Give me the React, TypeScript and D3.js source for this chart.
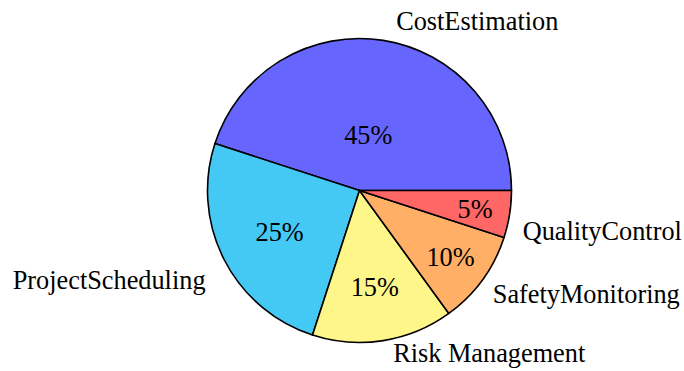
import React from "react";
import * as d3 from "d3";

const categories = ["CostEstimation", "ProjectScheduling", "Risk Management", "SafetyMonitoring", "QualityControl"];
const values = [45, 25, 15, 10, 5];
const colors = ["#6666ff", "#44c8f4", "#fff68a", "#ffb066", "#ff6666"];

// Where each percentage sits along its slice's mid-angle, as a fraction of the radius
const pctRadius = [0.37, 0.59, 0.64, 0.74, 0.77];
// Outside labels: anchor and baseline nudge relative to the 1.1·r point on the mid-angle
const labelAnchor: ("start" | "middle" | "end")[] = ["start", "end", "start", "start", "start"];
const labelNudge: [number, number][] = [[10.5, 4.5], [-5, 23], [7.5, 6.8], [-2, 14.2], [-2, 23.6]];

const W = 684;
const H = 371;
const cx = 359.5;
const cy = 190.5;
const R = 152;
const FONT = "Liberation Serif, Times New Roman, serif";

export default function App() {
  const total = d3.sum(values);
  // Counter-clockwise from 3 o'clock: convert to d3's clockwise-from-12 angles
  const pie = d3
    .pie<number>()
    .sort(null)
    .startAngle(Math.PI / 2)
    .endAngle(Math.PI / 2 - 2 * Math.PI)
    .value((d) => d);
  const arcs = pie(values);
  const arc = d3.arc<d3.PieArcDatum<number>>().innerRadius(0).outerRadius(R);

  const pos = (a: d3.PieArcDatum<number>, f: number): [number, number] => {
    const mid = (a.startAngle + a.endAngle) / 2;
    return [Math.sin(mid) * R * f, -Math.cos(mid) * R * f];
  };

  return (
    <svg width={W} height={H} style={{ position: "absolute", left: 0, top: 0 }} fontFamily={FONT} fontSize={26.3}>
      <rect width={W} height={H} fill="#ffffff" />
      <g transform={`translate(${cx},${cy})`}>
        {arcs.map((a, i) => (
          <path key={i} d={arc(a) || ""} fill={colors[i]} stroke="#000" strokeWidth={1.6} strokeLinejoin="round" />
        ))}
        {arcs.map((a, i) => {
          const [x, y] = pos(a, pctRadius[i]);
          return (
            <text key={"p" + i} x={x} y={y + 1} textAnchor="middle" dominantBaseline="central" fill="#000">
              {`${Math.round((values[i] / total) * 100)}%`}
            </text>
          );
        })}
        {arcs.map((a, i) => {
          const [x, y] = pos(a, 1.1);
          return (
            <text
              key={"l" + i}
              x={x + labelNudge[i][0]}
              y={y + labelNudge[i][1]}
              textAnchor={labelAnchor[i]}
              fill="#000"
            >
              {categories[i]}
            </text>
          );
        })}
      </g>
    </svg>
  );
}
